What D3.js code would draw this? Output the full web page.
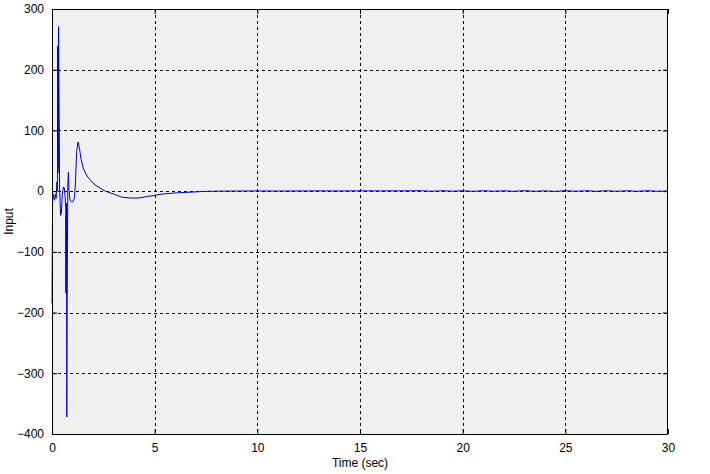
<!DOCTYPE html>
<html><head><meta charset="utf-8">
<script src="https://cdn.jsdelivr.net/npm/d3@7"></script>
<style>
html,body{margin:0;padding:0;background:#fff;}
svg text{font-family:"Liberation Sans",Arial,sans-serif;font-size:12px;fill:#000;}
</style></head>
<body><svg id="chart" width="710" height="474"></svg>
<script>
const xTicks = [0, 5, 10, 15, 20, 25, 30];
const yTicks = [-400, -300, -200, -100, 0, 100, 200, 300];
const xLabel = "Time (sec)";
const yLabel = "Input";

const time = [0.00,0.03,0.08,0.12,0.16,0.20,0.24,0.27,0.28,0.29,0.30,0.31,0.32,0.33,0.35,0.37,0.42,0.46,0.50,0.56,0.60,0.64,0.67,0.68,0.69,0.70,0.71,0.72,0.74,0.77,0.80,0.83,0.88,0.95,1.03,1.10,1.15,1.20,1.27,1.33,1.42,1.52,1.70,1.90,2.10,2.34,2.60,2.85,3.10,3.40,3.70,4.00,4.30,4.60,4.92,5.30,5.75,6.20,6.60,7.10,7.55,8.0,9.0,10.0,11.0,12.0,13.0,14.0,15.0,16.0,17.0,18.0,18.5,19.0,19.5,20.0,20.5,21.0,21.5,22.0,22.5,23.0,23.5,24.0,24.5,25.0,25.5,26.0,26.5,27.0,27.5,28.0,28.5,29.0,29.5,30.0];
const input = [-185,-3,-10,-15,-5,-12,15,0,238,30,240,40,271,220,120,5,-40,-35,-5,7,5,-10,-30,-168,-40,-165,-20,-372,-160,10,31,0,-15,-18,-17,-10,20,65,81,72,52,38,25,17,10,5,0,-3,-6,-10,-11,-11.5,-11,-9,-7.5,-5,-3.7,-2.5,-2,-1,-0.3,0,0.2,0.3,0.2,0.3,0.4,0.3,0.5,0.4,0.5,0.6,-0.2,0.7,-0.1,0.6,-0.3,0.7,-0.2,0.6,-0.3,0.7,-0.1,0.5,-0.4,0.7,-0.2,0.6,-0.3,0.7,-0.2,0.6,-0.3,0.7,-0.2,0.2];

const svg = d3.select("#chart");
const L = 52, R = 668, T = 9, B = 434;
const x = d3.scaleLinear().domain([0, 30]).range([L, R]);
const y = d3.scaleLinear().domain([-400, 300]).range([B, T]);

svg.append("rect").attr("x", L).attr("y", T).attr("width", R - L).attr("height", B - T).attr("fill", "#f0f0f0");

const g = svg.append("g").attr("stroke", "#000").attr("stroke-width", 1).attr("stroke-dasharray", "3,3").attr("shape-rendering", "crispEdges");
xTicks.slice(1, -1).forEach(v => g.append("line").attr("x1", Math.round(x(v)) + 0.5).attr("x2", Math.round(x(v)) + 0.5).attr("y1", T).attr("y2", B));
yTicks.slice(1, -1).forEach(v => g.append("line").attr("y1", Math.round(y(v)) + 0.5).attr("y2", Math.round(y(v)) + 0.5).attr("x1", L).attr("x2", R));

const axB = svg.append("g").attr("transform", `translate(0,${B})`).call(d3.axisBottom(x).tickValues(xTicks).tickSize(-5).tickPadding(9).tickFormat(d3.format("d")));
const axT = svg.append("g").attr("transform", `translate(0,${T})`).call(d3.axisTop(x).tickValues(xTicks).tickSize(-5).tickFormat(""));
const axL = svg.append("g").attr("transform", `translate(${L},0)`).call(d3.axisLeft(y).tickValues(yTicks).tickSize(-5).tickPadding(8).tickFormat(d3.format("d")));
const axR = svg.append("g").attr("transform", `translate(${R},0)`).call(d3.axisRight(y).tickValues(yTicks).tickSize(-5).tickFormat(""));
[axB, axT, axL, axR].forEach(a => {
  a.selectAll("path").remove();
  a.selectAll("line").attr("stroke", "#000");
  a.selectAll("text").style("font-size", "12px").attr("fill", "#000");
});

const data = time.map((t, i) => [t, input[i]]);
svg.append("path").datum(data)
  .attr("fill", "none").attr("stroke", "#0000d0").attr("stroke-width", 1)
  .attr("d", d3.line().x(d => x(d[0])).y(d => y(d[1])));

svg.append("rect").attr("x", L + 0.5).attr("y", T + 0.5).attr("width", R - L - 1).attr("height", B - T)
  .attr("fill", "none").attr("stroke", "#000").attr("stroke-width", 1).attr("shape-rendering", "crispEdges");

svg.append("text").attr("x", (L + R) / 2).attr("y", 467).attr("text-anchor", "middle").text(xLabel);
svg.append("text").attr("transform", `translate(13,${(T + B) / 2}) rotate(-90)`).attr("text-anchor", "middle").text(yLabel);
</script></body></html>
